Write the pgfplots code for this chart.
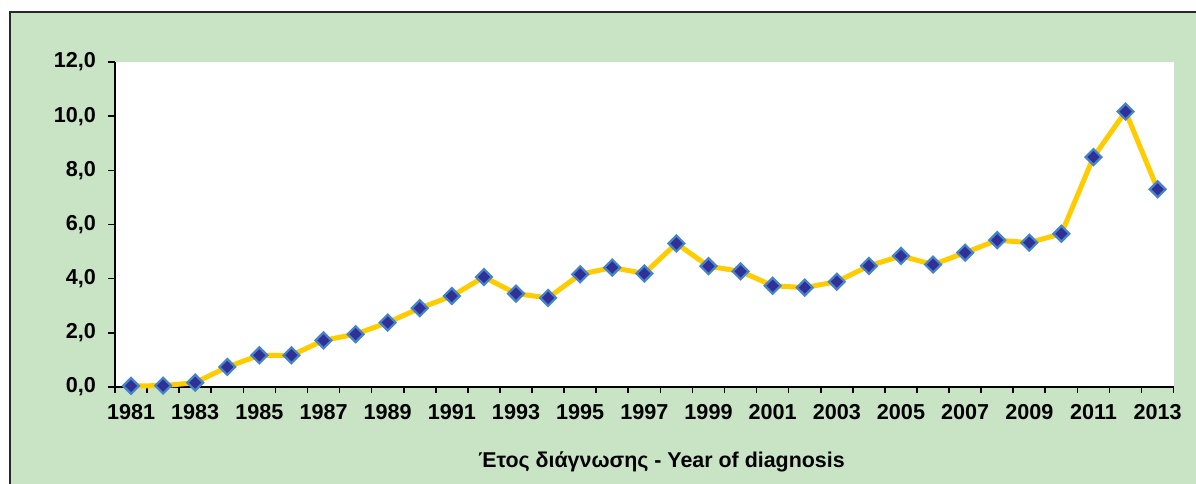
\documentclass[border=0pt]{standalone}
\usepackage{pgfplots}
\pgfplotsset{compat=1.18}
\usepackage{fontspec}
\setmainfont{Liberation Sans}
\definecolor{bggreen}{RGB}{201,228,197}
\definecolor{linegold}{RGB}{255,204,0}
\definecolor{mkouter}{RGB}{70,132,202}
\definecolor{mkinner}{RGB}{48,48,150}
\definecolor{frame}{RGB}{40,40,40}
\pgfplotstableread{
year val
1981 0.04
1982 0.05
1983 0.16
1984 0.74
1985 1.17
1986 1.17
1987 1.72
1988 1.95
1989 2.38
1990 2.91
1991 3.36
1992 4.06
1993 3.45
1994 3.29
1995 4.16
1996 4.41
1997 4.19
1998 5.30
1999 4.46
2000 4.27
2001 3.74
2002 3.67
2003 3.89
2004 4.47
2005 4.84
2006 4.52
2007 4.96
2008 5.42
2009 5.33
2010 5.66
2011 8.49
2012 10.17
2013 7.30
}\datatable
\begin{document}
\begin{tikzpicture}
\clip (0pt,0pt) rectangle (598pt,241.5pt);
\draw[line width=1pt, draw=frame, fill=bggreen] (5pt,235.25pt) rectangle (620pt,-20pt);
\begin{axis}[
  at={(57.5pt,48pt)}, anchor=south west,
  scale only axis, width=529.35pt, height=162.5pt,
  xmin=1980.5, xmax=2013.5, ymin=0, ymax=12,
  axis x line*=bottom, axis y line*=left,
  axis line style={line width=0.9pt, black},
  axis background/.style={fill=white},
  clip=false,
  font=\fontsize{10.8}{12}\selectfont\bfseries,
  /pgf/number format/assume math mode=true,
  xtick={1981,1983,...,2013},
  xticklabel style={yshift=-1.5pt, /pgf/number format/.cd, set thousands separator={}},
  major x tick style={draw=none},
  minor xtick={1980.5,1981.5,...,2013.5},
  minor x tick style={black, line width=0.8pt},
  tick align=outside,
  major tick length=3.5pt, minor tick length=3pt,
  ytick={0,2,...,12},
  y tick style={black, line width=0.8pt},
  yticklabel style={xshift=-2.5pt, /pgf/number format/.cd, fixed, fixed zerofill, precision=1, use comma},
]
\addplot[color=linegold, line width=2.5pt, mark=square*, mark size=2.8pt,
  mark options={rotate=45, draw=mkouter, fill=mkinner, line width=1.1pt, solid}]
  table[x=year, y=val] {\datatable};
\end{axis}
\node[font=\fontsize{10.7}{12}\selectfont\bfseries] at (330.75pt,10.5pt) {Έτος διάγνωσης - Year of diagnosis};
\end{tikzpicture}
\end{document}
